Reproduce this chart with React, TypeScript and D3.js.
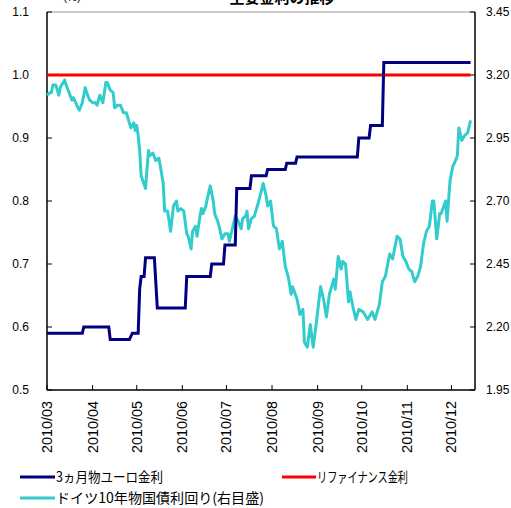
import React from "react";
import * as d3 from "d3";

const tealDates = ["03-01","03-03","03-04","03-05","03-07","03-09","03-10","03-13","03-14","03-16","03-18","03-19","03-22","03-23","03-25","03-27","03-28","03-30","04-01","04-03","04-04","04-06","04-08","04-10","04-11","04-13","04-15","04-16","04-18","04-20","04-22","04-24","04-25","04-27","04-29","04-30","05-01","05-02","05-03","05-04","05-07","05-09","05-10","05-12","05-14","05-16","05-17","05-19","05-20","05-22","05-24","05-26","05-28","05-29","05-31","06-02","06-04","06-05","06-07","06-08","06-10","06-11","06-13","06-14","06-15","06-17","06-18","06-20","06-22","06-23","06-25","06-26","06-28","06-30","07-02","07-03","07-05","07-07","07-09","07-11","07-12","07-14","07-15","07-16","07-18","07-20","07-23","07-26","07-28","07-29","07-31","08-02","08-04","08-06","08-08","08-10","08-12","08-14","08-15","08-18","08-20","08-22","08-23","08-25","08-27","08-29","08-31","09-03","09-05","09-07","09-09","09-12","09-13","09-15","09-17","09-18","09-20","09-22","09-23","09-25","09-27","09-29","10-02","10-03","10-05","10-07","10-08","10-10","10-12","10-13","10-15","10-17","10-20","10-22","10-25","10-27","10-29","10-31","11-02","11-04","11-06","11-08","11-10","11-12","11-14","11-16","11-18","11-19","11-21","11-23","11-24","11-27","11-28","11-30","12-02","12-03","12-05","12-06","12-08","12-10","12-12","12-14"];
const tealValues = [3.12,3.13,3.13,3.16,3.16,3.12,3.15,3.18,3.16,3.13,3.10,3.11,3.07,3.06,3.09,3.15,3.13,3.10,3.09,3.09,3.08,3.12,3.09,3.17,3.17,3.14,3.13,3.07,3.08,3.08,3.05,3.05,3.03,2.99,3.01,2.98,3.00,2.96,2.90,2.80,2.75,2.90,2.88,2.89,2.86,2.87,2.84,2.77,2.66,2.66,2.58,2.68,2.70,2.66,2.67,2.66,2.57,2.56,2.51,2.58,2.60,2.56,2.64,2.67,2.65,2.68,2.71,2.76,2.70,2.65,2.62,2.60,2.55,2.57,2.57,2.54,2.59,2.64,2.62,2.59,2.63,2.64,2.66,2.59,2.63,2.64,2.70,2.77,2.72,2.68,2.70,2.60,2.59,2.51,2.54,2.44,2.40,2.33,2.36,2.31,2.25,2.27,2.14,2.12,2.21,2.12,2.21,2.36,2.31,2.24,2.33,2.39,2.35,2.48,2.43,2.46,2.45,2.30,2.34,2.28,2.23,2.27,2.26,2.25,2.23,2.25,2.26,2.23,2.27,2.29,2.38,2.40,2.49,2.47,2.56,2.55,2.48,2.46,2.43,2.42,2.38,2.40,2.44,2.53,2.58,2.60,2.70,2.70,2.55,2.65,2.65,2.70,2.62,2.78,2.84,2.85,2.88,2.99,2.94,2.96,2.97,3.02];

const euriborDates = ["03-01","03-25","03-26","04-12","04-13","04-26","04-28","05-02","05-03","05-04","05-06","05-07","05-13","05-15","06-03","06-04","06-20","06-21","06-29","06-30","07-07","07-08","07-17","07-18","07-28","07-29","08-10","08-11","08-17","08-18","09-28","09-29","10-06","10-07","10-15","10-16","12-14"];
const euriborValues = [0.59,0.59,0.60,0.60,0.58,0.58,0.59,0.59,0.66,0.68,0.68,0.71,0.71,0.63,0.63,0.68,0.68,0.70,0.70,0.73,0.73,0.82,0.82,0.84,0.84,0.85,0.85,0.86,0.86,0.87,0.87,0.90,0.90,0.92,0.92,1.02,1.02];

const refiDates = ["03-01","12-14"];
const refiValues = [1.0,1.0];

const leftTicks = [0.5,0.6,0.7,0.8,0.9,1.0,1.1];
const rightTicks = [1.95,2.2,2.45,2.7,2.95,3.2,3.45];

const YEAR = "2010";
const parse = d3.utcParse("%Y-%m-%d");
const toDate = (md: string) => parse(`${YEAR}-${md}`) as Date;

const W = 511, H = 508;
const M = { left: 47, right: 475, top: 12, bottom: 390 };

export default function App() {
  const x = d3.scaleUtc().domain([toDate("03-01"), toDate("12-17")]).range([M.left, M.right]);
  const yL = d3.scaleLinear().domain([0.5, 1.1]).range([M.bottom, M.top]);
  const yR = d3.scaleLinear().domain([1.95, 3.45]).range([M.bottom, M.top]);
  const monthTicks = d3.utcMonth.range(toDate("03-01"), toDate("12-02"));
  const fmtMonth = d3.utcFormat("%Y/%m");

  const mk = (dates: string[], vals: number[], y: d3.ScaleLinear<number, number>) =>
    d3.line<number>().x((_, i) => x(toDate(dates[i]))).y((v) => y(v))(vals) || "";

  const tealPath = mk(tealDates, tealValues, yR);
  const navyPath = mk(euriborDates, euriborValues, yL);
  const redPath = mk(refiDates, refiValues, yL);

  const numFont = "'Liberation Sans', Arial, sans-serif";
  const jpFont = "'Noto Sans CJK JP', sans-serif";

  return (
    <svg width={W} height={H} style={{ position: "absolute", left: 0, top: 0, background: "#fff" }}>
      <rect x={0} y={0} width={W} height={H} fill="#fff" />
      {/* title (cut off at top) */}
      <text x={282} y={3} textAnchor="middle" fontFamily={jpFont} fontWeight="bold" fontSize={15} fill="#000">主要金利の推移</text>
      <text x={72} y={1} textAnchor="middle" fontFamily={numFont} fontSize={11} fill="#000">(%)</text>

      {/* frame */}
      <line x1={M.left} x2={M.right} y1={M.top} y2={M.top} stroke="#999" strokeWidth={1} />
      <line x1={M.left} x2={M.left} y1={M.top} y2={M.bottom} stroke="#000" strokeWidth={1.5} />
      <line x1={M.right} x2={M.right} y1={M.top} y2={M.bottom} stroke="#000" strokeWidth={1.5} />
      <line x1={M.left} x2={M.right} y1={M.bottom} y2={M.bottom} stroke="#000" strokeWidth={1.5} />

      {leftTicks.map((t) => (
        <g key={"l" + t}>
          <line x1={M.left} x2={M.left + 5} y1={yL(t)} y2={yL(t)} stroke="#000" strokeWidth={1} />
          <text x={29} y={yL(t) + 4} textAnchor="end" fontFamily={numFont} fontSize={12} fill="#000">{d3.format(".1f")(t)}</text>
        </g>
      ))}
      {rightTicks.map((t) => (
        <g key={"r" + t}>
          <line x1={M.right - 5} x2={M.right} y1={yR(t)} y2={yR(t)} stroke="#000" strokeWidth={1} />
          <text x={486} y={yR(t) + 4} textAnchor="start" fontFamily={numFont} fontSize={12} fill="#000">{d3.format(".2f")(t)}</text>
        </g>
      ))}
      {monthTicks.map((d) => (
        <g key={"m" + d.getTime()}>
          <line x1={x(d)} x2={x(d)} y1={M.bottom - 5} y2={M.bottom} stroke="#000" strokeWidth={1} />
          <text transform={`translate(${x(d) + 5},${401}) rotate(-90)`} textAnchor="end" fontFamily={numFont} fontSize={14} fill="#000" textLength={52} lengthAdjust="spacingAndGlyphs">{fmtMonth(d)}</text>
        </g>
      ))}

      <path d={tealPath} fill="none" stroke="#33CCCC" strokeWidth={3} strokeLinejoin="round" />
      <path d={redPath} fill="none" stroke="#FF0000" strokeWidth={3} />
      <path d={navyPath} fill="none" stroke="#000080" strokeWidth={3} strokeLinejoin="miter" />

      {/* legend */}
      <line x1={20} x2={55} y1={477} y2={477} stroke="#000080" strokeWidth={3} />
      <text x={56} y={482} fontFamily={jpFont} fontSize={14} fill="#000" textLength={107} lengthAdjust="spacingAndGlyphs">3ヵ月物ユーロ金利</text>
      <line x1={282} x2={316} y1={477} y2={477} stroke="#FF0000" strokeWidth={3} />
      <text x={317} y={482} fontFamily={jpFont} fontSize={14} fill="#000" textLength={91} lengthAdjust="spacingAndGlyphs">リファイナンス金利</text>
      <line x1={20} x2={55} y1={498} y2={498} stroke="#33CCCC" strokeWidth={3} />
      <text x={56} y={503} fontFamily={jpFont} fontSize={14} fill="#000" textLength={208} lengthAdjust="spacingAndGlyphs">ドイツ10年物国債利回り(右目盛)</text>
    </svg>
  );
}
